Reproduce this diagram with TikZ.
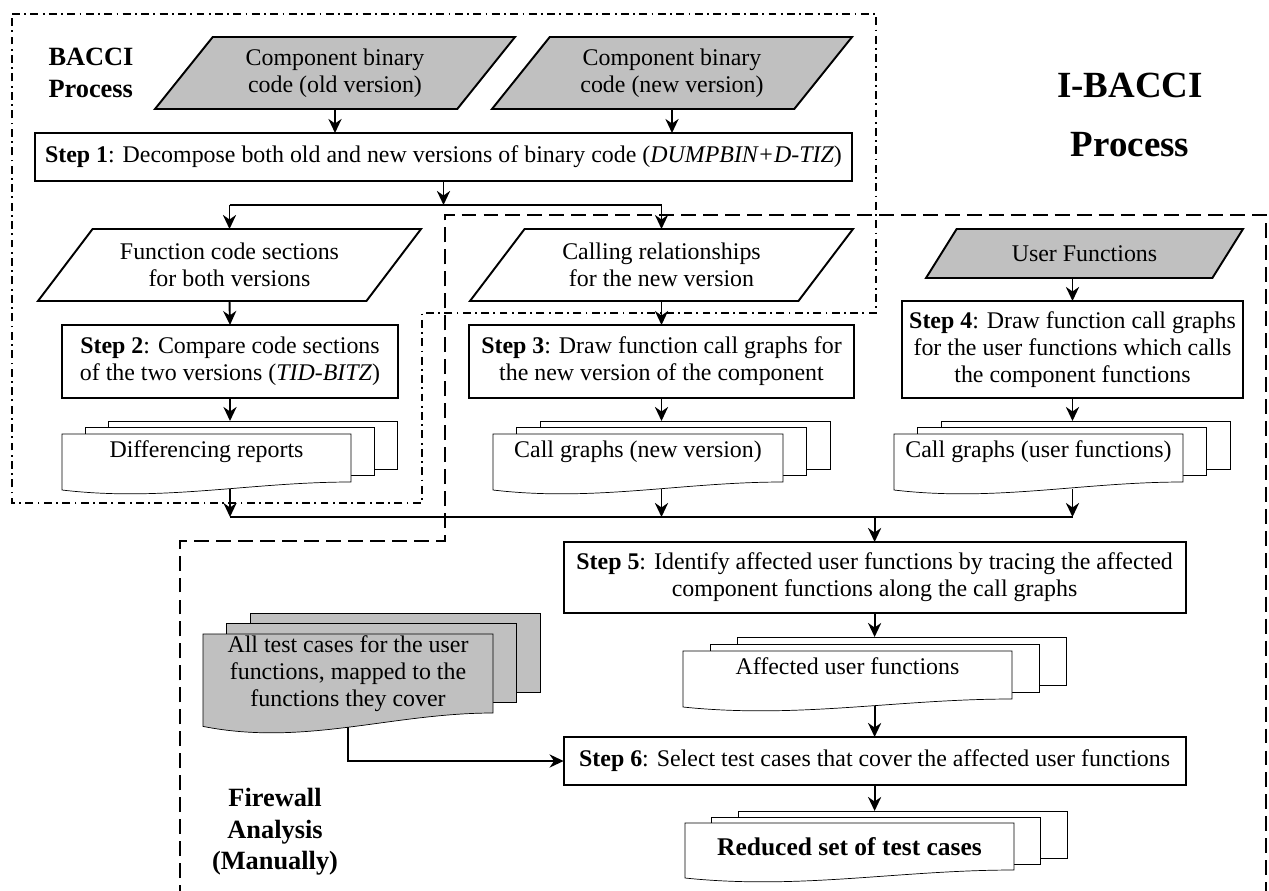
\documentclass[tikz,border=0pt]{standalone}
\usepackage{fontspec}
\setmainfont{Liberation Serif}
\usetikzlibrary{arrows.meta,shapes.geometric,backgrounds,calc}
\definecolor{shade}{HTML}{C0C0C0}

\begin{document}
\begin{tikzpicture}[x=0.2mm,y=-0.2mm,>={Stealth[length=8pt,width=7.5pt]},
 font=\fontsize{13.6}{15.4}\selectfont,line width=1.1pt,
 io/.style={draw,trapezium,trapezium stretches body,trapezium left angle=44,trapezium right angle=136,
   minimum width=7.2cm,minimum height=1.44cm,align=center,inner sep=2pt,outer sep=0pt},
 stepbox/.style={draw,rectangle,align=center,inner sep=2pt,outer sep=0pt},
 doc/.style={rectangle,align=center,inner sep=0pt,outer sep=0pt,minimum height=0.96cm},
 one/.style={text depth=0.34cm},
 region/.style={font=\fontsize{15}{18}\selectfont\bfseries,align=center},
 bacci/.style={line width=0.8pt,dash pattern=on 4.5pt off 2.5pt on 1pt off 2.5pt},
 firewall/.style={line width=1pt,dash pattern=on 8.5pt off 4pt}]
\useasboundingbox (0,0) rectangle (1269,890);

% BACCI part
\node[io,fill=shade] (old) at (335,73) {Component binary\\code (old version)};
\node[io,fill=shade] (new) at (672,73) {Component binary\\code (new version)};
\node[stepbox,minimum width=16.34cm,minimum height=0.96cm] (step1) at (443.5,157)
  {\textbf{Step 1}: Decompose both old and new versions of binary code (\textit{DUMPBIN+D-TIZ})};
\node[io,minimum width=7.66cm,trapezium left angle=43,trapezium right angle=137] (fcs) at (229.5,265)
  {Function code sections\\for both versions};
\node[io,minimum width=7.66cm,trapezium left angle=43,trapezium right angle=137] (crel) at (661.5,265)
  {Calling relationships\\for the new version};
\node[io,fill=shade,minimum width=6.34cm,minimum height=0.98cm,trapezium left angle=37,trapezium right angle=143]
  (uf) at (1084.5,253.5) {User Functions};
\node[stepbox,minimum width=6.72cm,minimum height=1.46cm] (step2) at (230,361.5)
  {\textbf{Step 2}: Compare code sections\\of the two versions (\textit{TID-BITZ})};
\node[stepbox,minimum width=7.7cm,minimum height=1.46cm] (step3) at (661.5,361.5)
  {\textbf{Step 3}: Draw function call graphs for\\the new version of the component};
\node[stepbox,minimum width=6.82cm,minimum height=1.94cm] (step4) at (1072.5,349.5)
  {\textbf{Step 4}: Draw function call graphs\\for the user functions which calls\\the component functions};
\node[doc,one,minimum width=5.78cm] (diff) at (206.5,458) {Differencing reports};
\node[doc,one,minimum width=5.8cm] (cgnew) at (638,458) {Call graphs (new version)};
\node[doc,one,minimum width=5.78cm] (cguser) at (1038.5,458) {Call graphs (user functions)};

% firewall part
\node[stepbox,minimum width=12.44cm,minimum height=1.42cm] (step5) at (874.6,577.5)
  {\textbf{Step 5}: Identify affected user functions by tracing the affected\\component functions along the call graphs};
\node[doc,one,minimum width=6.58cm] (aff) at (847.5,675) {Affected user functions};
\node[doc,minimum width=5.8cm,minimum height=1.58cm] (tests) at (348,673.5)
  {All test cases for the user\\functions, mapped to the\\functions they cover};
\node[stepbox,minimum width=12.44cm,minimum height=0.96cm] (step6) at (874.6,761)
  {\textbf{Step 6}: Select test cases that cover the affected user functions};
\node[doc,minimum width=6.58cm,minimum height=0.94cm,font=\fontsize{14.5}{17}\selectfont\bfseries] (red) at (849.5,846.5)
  {Reduced set of test cases};

\node[region,align=left] (bacci) at (91,73) {BACCI\\Process};
\node[region,font=\fontsize{21}{33.4}\selectfont\bfseries] (ibacci) at (1130,115) {I-BACCI\\Process};
\node[region] (fw) at (275,832) {Firewall\\Analysis\\(Manually)};

% stacked pages
\begin{scope}[on background layer]
\foreach \d/\c/\dx/\dy/\w in {diff/white/23/6.5/8,cgnew/white/23.5/6.5/8,cguser/white/23.5/6.5/8,
  aff/white/27/7/8,red/white/26.5/6/8,tests/shade/23.5/10.5/13.4}{
  \foreach \k in {2,1}
    \draw[fill=\c] ([shift={(\k*\dx,-\k*\dy)}]\d.north west) rectangle ([shift={(\k*\dx,-\k*\dy)}]\d.south east);
  \draw[fill=\c] (\d.north west) -- (\d.north east) -- (\d.south east)
    .. controls ($(\d.south east)!0.35!(\d.south west)$) and ($(\d.south west)!0.35!(\d.south east)+(0,2.5*\w)$)
    .. ([shift={(0,\w)}]\d.south west) -- cycle;
  \coordinate (\d-in) at ([shift={(\dx,-2*\dy)}]\d.north);
  \coordinate (\d-out) at ([shift={(\dx,0.86*\w)}]\d.south);
  \coordinate (\d-mid) at ([shift={(0,1.06*\w)}]\d.south);
}
\end{scope}

% connectors
\draw[->] (old.center |- old.south) -- (old.center |- step1.north);
\draw[->] (new.center |- new.south) -- (new.center |- step1.north);
\coordinate (j1) at (443.5,205);
\draw[->] (step1.south) -- (j1);
\draw (fcs.center |- j1) -- (crel.center |- j1);
\foreach \n in {fcs,crel} \draw[->] (\n.center |- j1) -- (\n.center |- \n.north);
\draw[->] (fcs.center |- fcs.south) -- (step2.north);
\draw[->] (crel.center |- crel.south) -- (step3.north);
\draw[->] (step4.north |- uf.south) -- (step4.north);
\foreach \s/\d in {step2/diff,step3/cgnew,step4/cguser} \draw[->] (\s.south) -- (\s.south |- \d-in);
\coordinate (j2) at (874.6,517);
\foreach \s/\d in {step2/diff,step3/cgnew,step4/cguser} \draw[->] (\s.south |- \d-out) -- (\s.south |- j2);
\draw (step2.south |- j2) -- (step4.south |- j2);
\draw[->] (j2) -- (step5.north);
\draw[->] (step5.south) -- (step5.south |- aff-in);
\draw[->] (step6.north |- aff-out) -- (step6.north);
\draw[->] (step6.south) -- (step6.south |- red-in);
\draw[->] (tests-mid) |- (step6.west);

% process borders
\draw[bacci] (12,14) -- (876,14) -- (876,313) -- (422,313) -- (422,503) -- (12,503) -- cycle;
\draw[firewall] (180,900) -- (180,541) -- (445,541) -- (445,215) -- (1266,215) -- (1266,900);
\end{tikzpicture}
\end{document}
